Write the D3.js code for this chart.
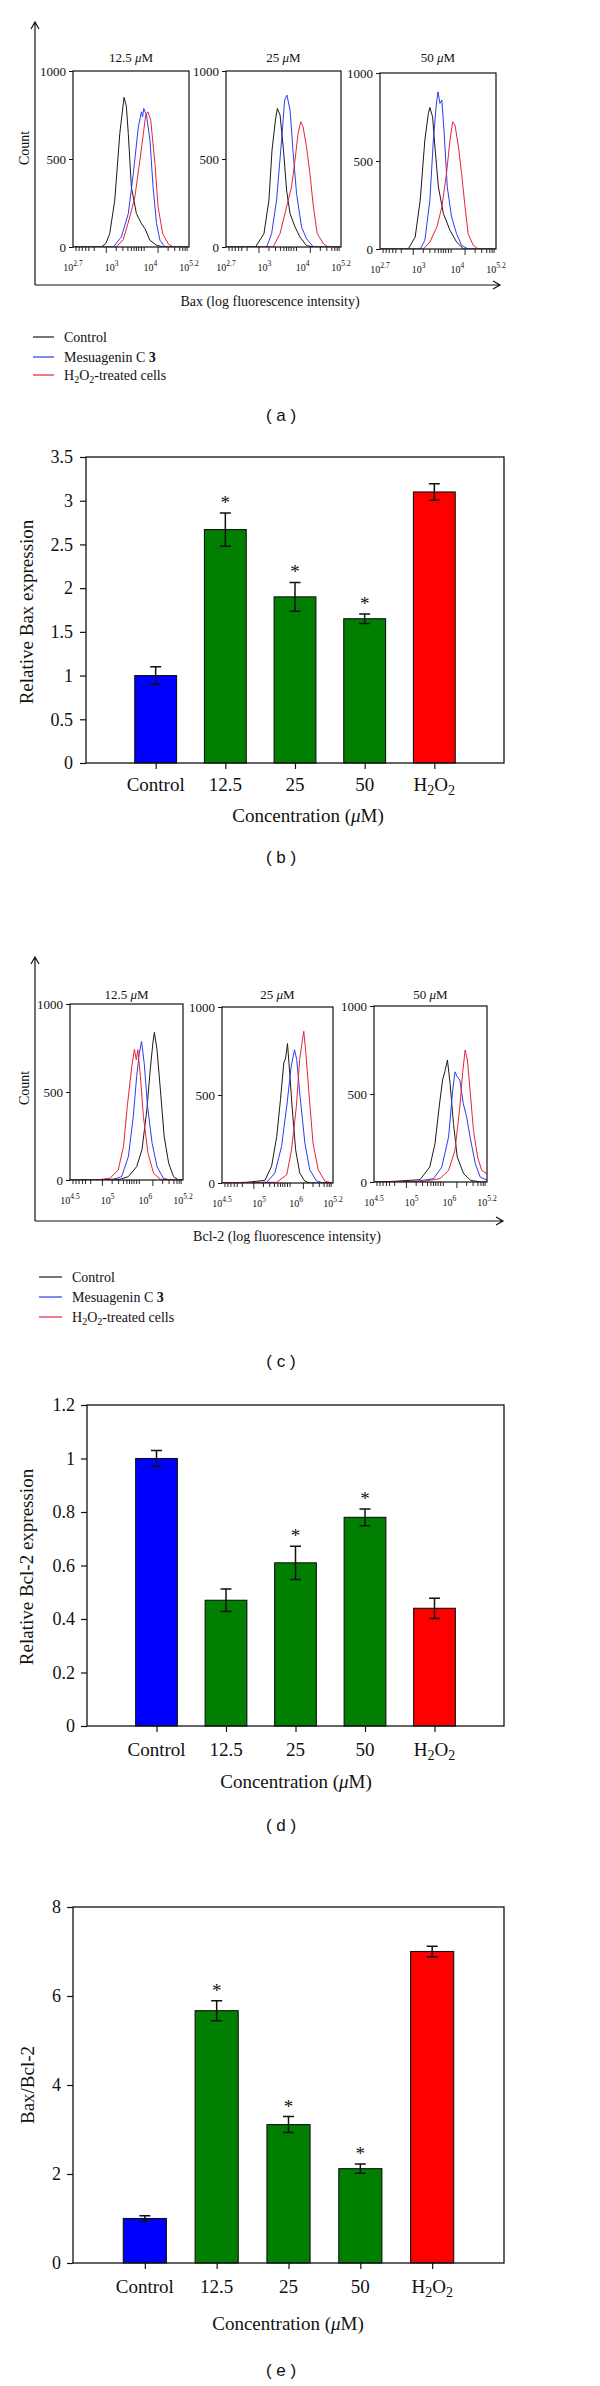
<!DOCTYPE html>
<html><head><meta charset="utf-8">
<script src="https://cdn.jsdelivr.net/npm/d3@7"></script>
<style>
body{margin:0;background:#fff}
svg{display:block}
text{font-family:"Liberation Serif","Times New Roman",serif;fill:#111}
</style>
</head><body>
<svg id="c" width="600" height="2386"></svg>
<script>
// ---------------- DATA ----------------
const categories = ["Control","12.5","25","50","H2O2"];
const barColors = ["#0000ff","#007f00","#007f00","#007f00","#ff0000"];

const baxValues = [1.0, 2.67, 1.90, 1.65, 3.10];
const baxErrors = [0.10, 0.19, 0.165, 0.055, 0.095];
const baxSig = [false, true, true, true, false];

const bcl2Values = [1.0, 0.47, 0.61, 0.78, 0.44];
const bcl2Errors = [0.03, 0.042, 0.062, 0.031, 0.038];
const bcl2Sig = [false, false, true, true, false];

const ratioValues = [1.0, 5.67, 3.11, 2.12, 7.0];
const ratioErrors = [0.06, 0.225, 0.18, 0.105, 0.12];
const ratioSig = [false, true, true, true, false];

const histTitles = ["12.5", "25", "50"];
const baxTickExps = ["2.7", "3", "4", "5.2"];
const bcl2TickExps = ["4.5", "5", "6", "5.2"];
const histYTicks = [0, 500, 1000];
const histMajorTicks = [0.86, 2.2];
const histMinorTicks = [0.08, 0.16, 0.24, 0.33, 0.41, 0.55, 1.12, 1.29, 1.42, 1.51, 1.58, 1.64, 1.70, 1.77, 1.84, 2.46, 2.63, 2.76, 2.84, 2.90, 2.95];
const legendLabels = ["Control", "Mesuagenin C ", "-treated cells"];
const seriesColors = ["#1a1a1a", "#2b3cf0", "#e5243b"];

// Histograms: [position (0..3 across the plot), count]
const baxControl = [
 [[0,0],[0.73,0],[0.85,20],[0.95,76],[1.08,266],[1.21,645],[1.32,850],[1.38,800],[1.43,645],[1.51,340],[1.64,190],[1.77,133],[1.86,105],[1.99,38],[2.16,10],[2.33,0],[3,0]],
 [[0,0],[0.77,0],[0.99,76],[1.12,266],[1.20,550],[1.29,721],[1.34,787],[1.41,750],[1.50,550],[1.58,323],[1.67,190],[1.80,114],[1.93,57],[2.10,8],[2.28,0],[3,0]],
 [[0,0],[0.73,0],[0.91,68],[1.04,277],[1.16,619],[1.25,770],[1.29,804],[1.36,751],[1.42,580],[1.51,353],[1.64,201],[1.81,106],[1.98,40],[2.16,0],[3,0]]
];
const baxMesuagenin = [
 [[0,0],[1.04,0],[1.25,57],[1.43,190],[1.56,417],[1.69,683],[1.77,768],[1.80,740],[1.83,787],[1.90,750],[1.99,607],[2.07,342],[2.16,133],[2.25,38],[2.38,0],[3,0]],
 [[0,0],[1.06,0],[1.19,76],[1.32,266],[1.45,607],[1.53,835],[1.59,863],[1.67,778],[1.76,512],[1.84,304],[1.97,114],[2.10,47],[2.28,0],[3,0]],
 [[0,0],[1.04,0],[1.16,49],[1.29,277],[1.38,619],[1.45,808],[1.50,893],[1.55,827],[1.60,846],[1.66,657],[1.74,353],[1.85,182],[1.98,87],[2.11,20],[2.28,0],[3,0]]
];
const baxH2O2 = [
 [[0,0],[1.12,0],[1.30,42],[1.47,171],[1.60,285],[1.73,493],[1.82,645],[1.88,750],[1.94,768],[2.01,721],[2.06,607],[2.12,474],[2.20,228],[2.32,76],[2.46,19],[2.59,0],[3,0]],
 [[0,0],[1.23,0],[1.41,76],[1.58,228],[1.71,342],[1.80,493],[1.88,645],[1.95,712],[2.01,683],[2.10,569],[2.19,417],[2.28,228],[2.38,76],[2.54,19],[2.67,0],[3,0]],
 [[0,0],[1.12,0],[1.29,40],[1.47,125],[1.60,239],[1.72,429],[1.81,619],[1.88,723],[1.94,704],[2.03,580],[2.11,429],[2.20,239],[2.28,87],[2.41,21],[2.54,0],[3,0]]
];
const bcl2Control = [
 [[0,0],[1.33,4],[1.55,19],[1.77,76],[1.91,171],[2.04,398],[2.13,626],[2.20,778],[2.24,839],[2.31,740],[2.40,512],[2.50,247],[2.62,95],[2.75,19],[2.88,0],[3,0]],
 [[0,0],[0.67,4],[1.16,15],[1.34,95],[1.48,265],[1.58,473],[1.67,682],[1.72,710],[1.77,792],[1.83,625],[1.90,417],[1.99,189],[2.10,57],[2.24,10],[2.37,0],[3,0]],
 [[0,0],[0.55,4],[1.22,13],[1.48,85],[1.62,218],[1.73,427],[1.82,579],[1.88,626],[1.95,693],[2.02,560],[2.11,332],[2.21,142],[2.38,47],[2.56,10],[2.82,0],[3,0]]
];
const bcl2Mesuagenin = [
 [[0,0],[1.15,4],[1.37,19],[1.55,133],[1.68,360],[1.77,588],[1.84,721],[1.90,787],[1.97,664],[2.06,417],[2.18,209],[2.31,76],[2.48,10],[2.66,0],[3,0]],
 [[0,0],[1.21,4],[1.43,57],[1.61,208],[1.76,454],[1.87,663],[1.96,757],[2.02,701],[2.11,492],[2.24,227],[2.37,76],[2.55,13],[2.73,0],[3,0]],
 [[0,0],[1.13,4],[1.58,19],[1.80,85],[1.98,256],[2.09,522],[2.15,626],[2.21,598],[2.28,579],[2.37,446],[2.46,370],[2.55,256],[2.69,104],[2.82,28],[3,10]]
];
const bcl2H2O2 = [
 [[0,0],[0.70,0],[1.06,10],[1.28,57],[1.42,190],[1.52,417],[1.64,645],[1.71,743],[1.76,683],[1.80,740],[1.87,588],[1.95,360],[2.07,152],[2.22,38],[2.40,4],[3,0]],
 [[0,0],[1.48,4],[1.75,47],[1.88,189],[2.01,435],[2.10,701],[2.15,777],[2.21,862],[2.26,757],[2.35,511],[2.46,227],[2.60,76],[2.78,10],[3,0]],
 [[0,0],[1.31,4],[1.75,19],[1.98,66],[2.15,180],[2.27,408],[2.36,636],[2.42,750],[2.48,693],[2.55,522],[2.64,294],[2.75,142],[2.86,66],[3,47]]
];

// ---------------- DRAWING ----------------
const svg = d3.select("#c");
const SANS = "'Liberation Sans', Arial, sans-serif";

function muText(sel, prefix, suffix) {
  sel.append("tspan").text(prefix);
  sel.append("tspan").attr("font-style", "italic").text("μ");
  sel.append("tspan").text("M" + (suffix || ""));
}
function h2o2(sel, fs) {
  const sub = Math.round(fs * 0.72);
  sel.append("tspan").text("H");
  sel.append("tspan").attr("font-size", sub).attr("dy", fs * 0.2).text("2");
  sel.append("tspan").attr("dy", -fs * 0.2).text("O");
  sel.append("tspan").attr("font-size", sub).attr("dy", fs * 0.2).text("2");
}

function panelLabel(letter, y) {
  svg.append("text").attr("x", 281).attr("y", y).attr("text-anchor", "middle")
    .attr("font-size", 17).style("font-family", SANS)
    .text("( " + letter + " )");
}

function drawHistPanel(cfg) {
  const g = svg.append("g");
  const ax = cfg.axisX, top = cfg.axisTop, bot = cfg.axisBottom, right = cfg.axisRight;
  g.append("path").attr("d", `M${ax},${bot} L${ax},${top} M${ax-4},${top+7} L${ax},${top} L${ax+4},${top+7} M${ax},${bot} L${right},${bot} M${right-7},${bot-4} L${right},${bot} L${right-7},${bot+4}`)
    .attr("fill", "none").attr("stroke", "#111").attr("stroke-width", 1.2);
  g.append("text").attr("transform", `translate(${cfg.countX},${cfg.countY}) rotate(-90)`)
    .attr("text-anchor", "middle").attr("font-size", 14).text("Count");
  g.append("text").attr("x", cfg.xTitleX).attr("y", cfg.xTitleY).attr("text-anchor", "middle")
    .attr("font-size", 14).text(cfg.xTitle);

  cfg.boxes.forEach((b, i) => {
    const [x0, x1, y0, y1] = b;
    const x = d3.scaleLinear().domain([0, 3]).range([x0, x1]);
    const y = d3.scaleLinear().domain([0, 1000]).range([y1, y0]);
    const sg = g.append("g");
    const clipId = "clip" + cfg.id + i;
    sg.append("clipPath").attr("id", clipId).append("rect")
      .attr("x", x0).attr("y", y0 - 2).attr("width", x1 - x0).attr("height", y1 - y0 + 2);
    const line = d3.line().x(d => x(d[0])).y(d => y(d[1]));
    const series = [cfg.control[i], cfg.mesuagenin[i], cfg.h2o2[i]];
    series.forEach((s, k) => {
      sg.append("path").datum(s).attr("d", line).attr("fill", "none")
        .attr("stroke", seriesColors[k]).attr("stroke-width", 1)
        .attr("stroke-linejoin", "round").attr("clip-path", `url(#${clipId})`);
    });
    sg.append("rect").attr("x", x0).attr("y", y0).attr("width", x1 - x0).attr("height", y1 - y0)
      .attr("fill", "none").attr("stroke", "#111").attr("stroke-width", 1.2);
    const yAxis = d3.axisLeft(y).tickValues(histYTicks).tickSize(4).tickPadding(3).tickFormat(d3.format("d"));
    const ya = sg.append("g").attr("transform", `translate(${x0},0)`).call(yAxis);
    ya.select(".domain").remove();
    ya.selectAll("line").attr("stroke", "#111");
    ya.selectAll("text").attr("font-size", 13).attr("font-family", null).attr("fill", "#111");
    sg.selectAll(".mn").data(histMinorTicks).enter().append("line")
      .attr("x1", d => x(d)).attr("x2", d => x(d)).attr("y1", y1).attr("y2", y1 + 4)
      .attr("stroke", "#111").attr("stroke-width", 0.9);
    sg.selectAll(".mj").data(histMajorTicks).enter().append("line")
      .attr("x1", d => x(d)).attr("x2", d => x(d)).attr("y1", y1).attr("y2", y1 + 6)
      .attr("stroke", "#111").attr("stroke-width", 0.9);
    cfg.tickExps.forEach((e, k) => {
      const t = sg.append("text").attr("x", x(k)).attr("y", y1 + 24).attr("text-anchor", "middle")
        .attr("font-size", 10);
      t.append("tspan").text("10");
      t.append("tspan").attr("font-size", 7.5).attr("dy", -5).text(e);
    });
    const tt = sg.append("text").attr("x", (x0 + x1) / 2).attr("y", cfg.titleY[i])
      .attr("text-anchor", "middle").attr("font-size", 13);
    muText(tt, histTitles[i] + " ");
  });

  cfg.legendY.forEach((ly, k) => {
    g.append("line").attr("x1", cfg.legendX0).attr("x2", cfg.legendX1).attr("y1", ly).attr("y2", ly)
      .attr("stroke", seriesColors[k]).attr("stroke-width", 1.2);
    const t = g.append("text").attr("x", cfg.legendX1 + 10).attr("y", ly + 5).attr("font-size", 14);
    if (k === 0) t.text(legendLabels[0]);
    else if (k === 1) { t.append("tspan").text(legendLabels[1]); t.append("tspan").attr("font-weight", "bold").text("3"); }
    else { h2o2(t, 14); t.append("tspan").attr("dy", -14 * 0.2).text(legendLabels[2]); }
  });
}

function drawBarPanel(cfg) {
  const g = svg.append("g");
  const { x0, x1, y0, y1 } = cfg;
  const step = (x1 - x0) / 6;
  const x = d3.scalePoint().domain(categories).range([x0 + step, x1 - step]);
  const y = d3.scaleLinear().domain([0, cfg.yMax]).range([y1, y0]);
  const bw = step * 0.6;
  g.selectAll(".bar").data(cfg.values).enter().append("rect")
    .attr("x", (d, i) => x(categories[i]) - bw / 2).attr("y", d => y(d))
    .attr("width", bw).attr("height", d => y(0) - y(d))
    .attr("fill", (d, i) => barColors[i]).attr("stroke", "#111").attr("stroke-width", 1.1);
  cfg.values.forEach((v, i) => {
    const cx = x(categories[i]), e = cfg.errors[i];
    const yt = y(v + e), yb = y(v - e);
    g.append("path").attr("d", `M${cx},${yt} L${cx},${yb} M${cx-5.5},${yt} L${cx+5.5},${yt} M${cx-5.5},${yb} L${cx+5.5},${yb}`)
      .attr("stroke", "#111").attr("stroke-width", 1.5).attr("fill", "none");
    if (cfg.sig[i]) {
      g.append("text").attr("x", cx).attr("y", yt - 4).attr("text-anchor", "middle")
        .attr("font-size", 19).attr("fill", "#333").text("*");
    }
  });
  g.append("rect").attr("x", x0).attr("y", y0).attr("width", x1 - x0).attr("height", y1 - y0)
    .attr("fill", "none").attr("stroke", "#111").attr("stroke-width", 1.3);
  const ticks = d3.range(0, cfg.yMax + 1e-9, cfg.yStep);
  const ya = g.append("g").attr("transform", `translate(${x0},0)`)
    .call(d3.axisLeft(y).tickValues(ticks).tickSize(6).tickPadding(cfg.yPad).tickFormat(d => String(+d.toFixed(2))));
  ya.select(".domain").remove();
  ya.selectAll("line").attr("stroke", "#111").attr("stroke-width", 1.2);
  ya.selectAll("text").attr("font-size", 18).attr("font-family", null).attr("fill", "#111");
  const xa = g.append("g").attr("transform", `translate(0,${y1})`)
    .call(d3.axisBottom(x).tickSize(6).tickFormat(""));
  xa.select(".domain").remove();
  xa.selectAll("line").attr("stroke", "#111").attr("stroke-width", 1.2);
  categories.forEach(c => {
    const t = g.append("text").attr("x", x(c)).attr("y", cfg.xLabelY).attr("text-anchor", "middle").attr("font-size", 19);
    if (c === "H2O2") h2o2(t, 19); else t.text(c);
  });
  const tt = g.append("text").attr("x", cfg.xTitleX).attr("y", cfg.xTitleY).attr("text-anchor", "middle").attr("font-size", 19);
  muText(tt, "Concentration (", ")");
  g.append("text").attr("transform", `translate(${cfg.yTitleX},${cfg.yTitleY}) rotate(-90)`)
    .attr("text-anchor", "middle").attr("font-size", 19).text(cfg.yTitle);
}

// Panel (a)
drawHistPanel({
  id: "a", axisX: 35, axisTop: 22, axisBottom: 285, axisRight: 500,
  countX: 29, countY: 148, xTitle: "Bax (log fluorescence intensity)", xTitleX: 270, xTitleY: 306,
  boxes: [[73, 189, 71, 247], [226, 341, 71, 247], [380, 496, 73, 249]],
  titleY: [62, 62, 62], tickExps: baxTickExps,
  control: baxControl, mesuagenin: baxMesuagenin, h2o2: baxH2O2,
  legendX0: 33, legendX1: 54, legendY: [337, 357, 375]
});
panelLabel("a", 421);

// Panel (b)
drawBarPanel({
  x0: 86, x1: 504, y0: 457, y1: 763, yMax: 3.5, yStep: 0.5, yPad: 7,
  values: baxValues, errors: baxErrors, sig: baxSig,
  xLabelY: 791, xTitleX: 308, xTitleY: 822, yTitleX: 33, yTitleY: 612,
  yTitle: "Relative Bax expression"
});
panelLabel("b", 863);

// Panel (c)
drawHistPanel({
  id: "c", axisX: 35, axisTop: 957, axisBottom: 1221, axisRight: 503,
  countX: 29, countY: 1088, xTitle: "Bcl-2 (log fluorescence intensity)", xTitleX: 287, xTitleY: 1241,
  boxes: [[70, 183, 1004, 1180], [222, 333, 1007, 1183], [374, 487, 1006, 1182]],
  titleY: [999, 999, 999], tickExps: bcl2TickExps,
  control: bcl2Control, mesuagenin: bcl2Mesuagenin, h2o2: bcl2H2O2,
  legendX0: 39, legendX1: 62, legendY: [1277, 1297, 1317]
});
panelLabel("c", 1367);

// Panel (d)
drawBarPanel({
  x0: 87, x1: 504, y0: 1405, y1: 1726, yMax: 1.2, yStep: 0.2, yPad: 6,
  values: bcl2Values, errors: bcl2Errors, sig: bcl2Sig,
  xLabelY: 1756, xTitleX: 296, xTitleY: 1788, yTitleX: 33, yTitleY: 1567,
  yTitle: "Relative Bcl-2 expression"
});
panelLabel("d", 1831);

// Panel (e)
drawBarPanel({
  x0: 73, x1: 504, y0: 1907, y1: 2263, yMax: 8, yStep: 2, yPad: 6,
  values: ratioValues, errors: ratioErrors, sig: ratioSig,
  xLabelY: 2293, xTitleX: 288, xTitleY: 2330, yTitleX: 34, yTitleY: 2085,
  yTitle: "Bax/Bcl-2"
});
panelLabel("e", 2376);
</script>
</body></html>
